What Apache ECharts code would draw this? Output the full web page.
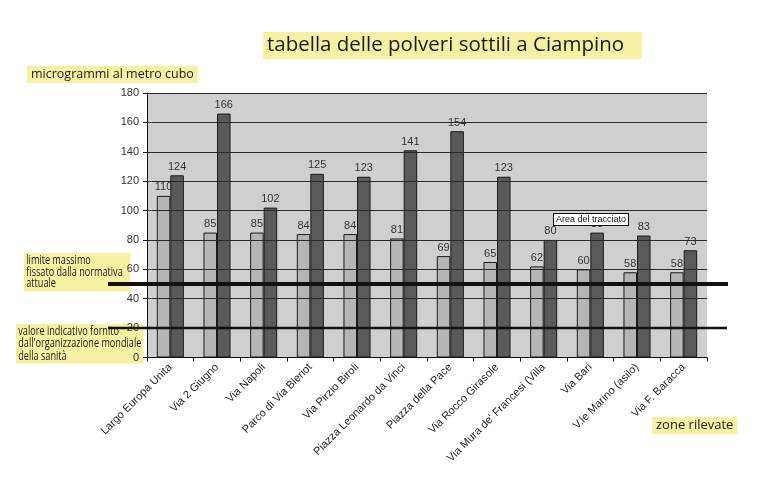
<!DOCTYPE html>
<html><head><meta charset="utf-8">
<script src="https://cdn.jsdelivr.net/npm/echarts@6/dist/echarts.min.js"></script>
<style>html,body{margin:0;padding:0;background:#fff}#c{width:758px;height:482px}</style>
</head><body><div id="c"></div>
<script>
const categories = ["Largo Europa Unita","Via 2 Giugno","Via Napoli","Parco di Via Bleriot","Via Pirzio Biroli","Piazza Leonardo da Vinci","Piazza della Pace","Via Rocco Girasole","Via Mura de' Francesi (Villa","Via Bari","V.le Marino (asilo)","Via F. Baracca"];
const lightValues = [110,85,85,84,84,81,69,65,62,60,58,58];
const darkValues = [124,166,102,125,123,141,154,123,80,85,83,73];
const yTicks = [0,20,40,60,80,100,120,140,160,180];
const limitValue = 50;
const whoValue = 20;

const chart = echarts.init(document.getElementById('c'));
const hl = 'rgba(240,230,100,0.6)';
const noteFont = '"Open Sans", "Noto Sans", sans-serif';
const labelStyle = {show:true, position:'top', distance:3, color:'#333', fontSize:11, fontFamily:'"Liberation Sans", Arial, sans-serif'};
chart.setOption({
  animation:false,
  backgroundColor:'#ffffff',
  grid:{left:147, right:51, top:93, bottom:124.5, show:true, backgroundColor:'#cfcfcf', borderWidth:0},
  xAxis:{type:'category', data:categories, z:3,
    axisLine:{lineStyle:{color:'#111', width:1}},
    axisTick:{show:true, length:4, lineStyle:{color:'#111'}},
    axisLabel:{rotate:45, fontSize:11, color:'#222', margin:8, fontFamily:'"Liberation Sans", Arial, sans-serif', interval:0}},
  yAxis:{type:'value', min:yTicks[0], max:yTicks[yTicks.length-1], interval:20, z:3,
    axisLine:{show:true, lineStyle:{color:'#111'}},
    axisTick:{show:true, length:4, lineStyle:{color:'#111'}},
    axisLabel:{fontSize:11, color:'#333', margin:8, fontFamily:'"Liberation Sans", Arial, sans-serif'},
    splitLine:{lineStyle:{color:'#2a2a2a', width:1}}},
  series:[
    {type:'bar', data:lightValues, barGap:'0%', barCategoryGap:'42%',
      itemStyle:{color:'#b5b5b5', borderColor:'#1a1a1a', borderWidth:1}, label:labelStyle},
    {type:'bar', data:darkValues,
      itemStyle:{color:'#5a5a5a', borderColor:'#1a1a1a', borderWidth:1}, label:labelStyle}
  ]
});

const yLimit = chart.convertToPixel({yAxisIndex:0}, limitValue);
const yWho = chart.convertToPixel({yAxisIndex:0}, whoValue);

chart.setOption({graphic:[
  {type:'line', shape:{x1:108, y1:yLimit, x2:728, y2:yLimit}, style:{stroke:'#111', lineWidth:4}, z:100},
  {type:'line', shape:{x1:108, y1:yWho, x2:727, y2:yWho}, style:{stroke:'#111', lineWidth:2.5}, z:100},
  {type:'text', left:263, top:32, style:{text:'tabella delle polveri sottili a Ciampino', font:'20.5px '+noteFont, fill:'#1a1a1a', backgroundColor:hl, padding:[3,18,3,4]}, z:1},
  {type:'text', left:27, top:66, style:{text:'microgrammi al metro cubo', font:'12.5px '+noteFont, fill:'#1a1a1a', backgroundColor:hl, padding:[2,4,2,4]}, z:1},
  {type:'text', left:652, top:417, style:{text:'zone rilevate', font:'13px '+noteFont, fill:'#1a1a1a', backgroundColor:hl, padding:[2,4,2,4]}, z:1},
  {type:'text', x:24, y:253, scaleX:0.76, style:{x:0, y:0, verticalAlign:'top', text:'limite massimo\nfissato dalla normativa\nattuale', font:'12px '+noteFont, lineHeight:11.5, fill:'#1a1a1a', backgroundColor:hl, padding:[2,10,2,3]}, z:1},
  {type:'text', x:16, y:324, scaleX:0.76, style:{x:0, y:0, verticalAlign:'top', text:"valore indicativo fornito\ndall'organizzazione mondiale\ndella sanità", font:'12px '+noteFont, lineHeight:12.5, fill:'#1a1a1a', backgroundColor:hl, padding:[1,3,1,3]}, z:1},
  {type:'text', left:553, top:213, style:{text:'Area del tracciato', font:'9px "Liberation Sans", Arial, sans-serif', fill:'#111', backgroundColor:'#fff', borderColor:'#111', borderWidth:1, padding:[1,2,1,2]}, z:95}
]});
</script></body></html>
